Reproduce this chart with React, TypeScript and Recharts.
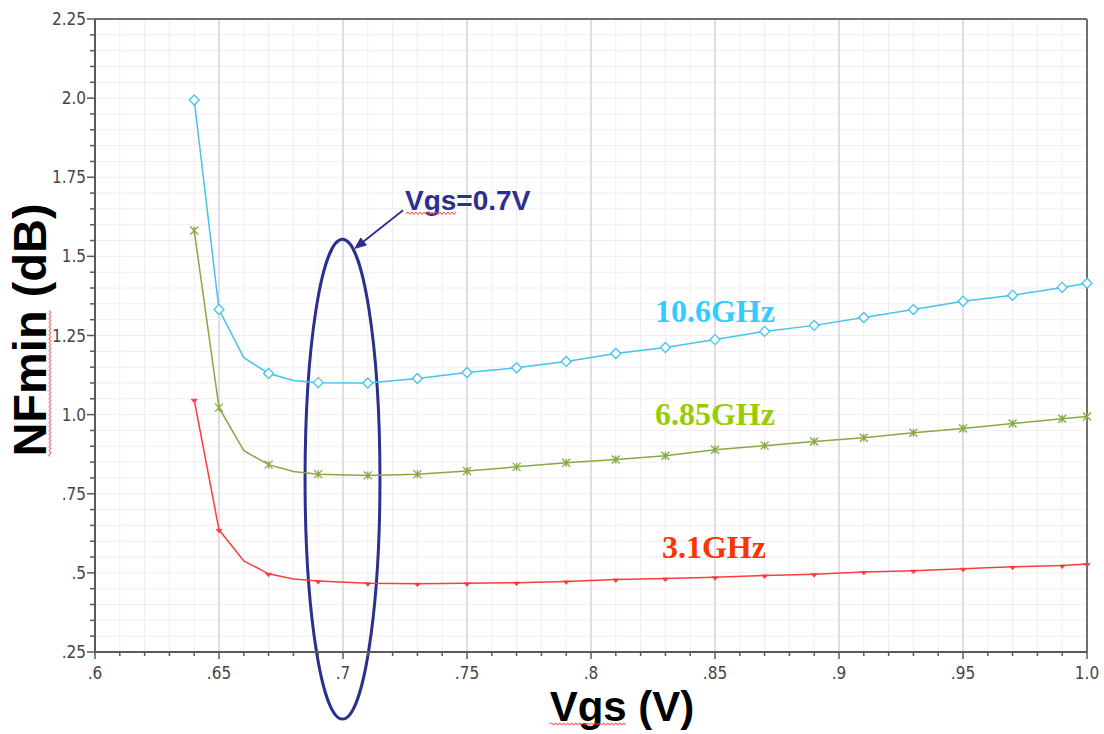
import React from 'react';
import {
  LineChart,
  Line,
  XAxis,
  YAxis,
  CartesianGrid,
  ReferenceLine,
  ReferenceArea,
  ReferenceDot,
} from 'recharts';

// ---- data ----
const vgs = [0.64, 0.65, 0.66, 0.67, 0.68, 0.69, 0.71, 0.73, 0.75, 0.77, 0.79, 0.81, 0.83, 0.85, 0.87, 0.89, 0.91, 0.93, 0.95, 0.97, 0.99, 1.0];
const nf106 = [1.994, 1.332, 1.18, 1.13, 1.108, 1.101, 1.1, 1.114, 1.133, 1.148, 1.168, 1.193, 1.212, 1.237, 1.263, 1.282, 1.307, 1.332, 1.358, 1.377, 1.402, 1.415];
const nf685 = [1.582, 1.022, 0.886, 0.842, 0.82, 0.812, 0.808, 0.812, 0.822, 0.835, 0.848, 0.858, 0.87, 0.889, 0.902, 0.915, 0.927, 0.943, 0.956, 0.972, 0.987, 0.994];
const nf31 = [1.047, 0.636, 0.538, 0.497, 0.481, 0.474, 0.467, 0.466, 0.467, 0.469, 0.473, 0.479, 0.482, 0.486, 0.492, 0.496, 0.503, 0.507, 0.513, 0.519, 0.523, 0.528];
const unmarkedVgs = [0.66, 0.68];

const seriesNames = ['10.6GHz', '6.85GHz', '3.1GHz'];

const xMajorTicks = [0.6, 0.65, 0.7, 0.75, 0.8, 0.85, 0.9, 0.95, 1.0];
const xTickLabels = ['.6', '.65', '.7', '.75', '.8', '.85', '.9', '.95', '1.0'];
const yMajorTicks = [0.25, 0.5, 0.75, 1.0, 1.25, 1.5, 1.75, 2.0, 2.25];
const yTickLabels = ['.25', '.5', '.75', '1.0', '1.25', '1.5', '1.75', '2.0', '2.25'];
const xMinorTicks = Array.from({ length: 41 }, (_, i) => Math.round((0.6 + i * 0.01) * 1000) / 1000);
const yMinorTicks = Array.from({ length: 41 }, (_, i) => Math.round((0.25 + i * 0.05) * 1000) / 1000);

const annotationWord = 'Vgs';
const annotationRest = '=0.7V';
const yTitleWord = 'NFmin';
const yTitleRest = ' (dB)';
const xTitleWord = 'Vgs';
const xTitleRest = ' (V)';

const data = vgs.map((v, i) => ({ vgs: v, f106: nf106[i], f685: nf685[i], f31: nf31[i] }));

// ---- styles ----
const TICK_FONT = "'Liberation Sans Narrow', 'Arial Narrow', 'DejaVu Sans Condensed', sans-serif";
const SANS = "'Liberation Sans', Arial, sans-serif";
const AXIS_COLOR = '#5a5a5a';
const C106 = '#43C3EE';
const C685 = '#88A845';
const C31 = '#FF3B3B';
const NAVY = '#2C2F8E';
const SPELL_RED = '#ff3b3b';

const isMajor = (list: number[], v: number) => list.findIndex((t) => Math.abs(t - v) < 1e-6);
const hasMarker = (v: number) => isMajor(unmarkedVgs, v) < 0;

// red "spell-check" squiggle under a word, in the local text frame
const wavyPath = (x1: number, y: number, x2: number) => {
  let d = `M${x1},${y}`;
  let up = true;
  for (let x = x1 + 2; x <= x2 + 0.01; x += 2) {
    d += ` L${x},${y + (up ? -1.2 : 1.2)}`;
    up = !up;
  }
  return d;
};

const XTick = (props: any) => {
  const { x, y, payload } = props;
  const idx = isMajor(xMajorTicks, payload.value);
  const major = idx >= 0;
  return (
    <g>
      <line x1={x} y1={y} x2={x} y2={y + (major ? 7 : 4)} stroke={AXIS_COLOR} strokeWidth={1.5} />
      {major && (
        <text x={x} y={y + 27} textAnchor="middle" fontFamily={TICK_FONT} fontSize={17} fill="#454545">
          {xTickLabels[idx]}
        </text>
      )}
    </g>
  );
};

const YTick = (props: any) => {
  const { x, y, payload } = props;
  const idx = isMajor(yMajorTicks, payload.value);
  const major = idx >= 0;
  return (
    <g>
      <line x1={x} y1={y} x2={x - (major ? 8 : 5)} y2={y} stroke={AXIS_COLOR} strokeWidth={1.5} />
      {major && (
        <text x={x - 9} y={y} dy="0.36em" textAnchor="end" fontFamily={TICK_FONT} fontSize={17} fill="#454545">
          {yTickLabels[idx]}
        </text>
      )}
    </g>
  );
};

const diamondDot = (p: any) => {
  const { cx, cy, index, payload } = p;
  if (!hasMarker(payload.vgs)) return <g key={`b${index}`} />;
  const s = 5;
  return (
    <path
      key={`b${index}`}
      d={`M${cx},${cy - s} L${cx + s},${cy} L${cx},${cy + s} L${cx - s},${cy} Z`}
      fill="#ffffff"
      stroke={C106}
      strokeWidth={1.3}
    />
  );
};

const crossDot = (p: any) => {
  const { cx, cy, index, payload } = p;
  if (!hasMarker(payload.vgs)) return <g key={`g${index}`} />;
  const s = 4;
  return (
    <path
      key={`g${index}`}
      d={`M${cx - s},${cy - s} L${cx + s},${cy + s} M${cx + s},${cy - s} L${cx - s},${cy + s} M${cx},${cy - s} L${cx},${cy + s}`}
      stroke={C685}
      strokeWidth={1.3}
      fill="none"
    />
  );
};

const smallDot = (p: any) => {
  const { cx, cy, index, payload } = p;
  if (!hasMarker(payload.vgs)) return <g key={`r${index}`} />;
  return (
    <path
      key={`r${index}`}
      d={`M${cx - 3},${cy - 0.5} L${cx + 3},${cy - 0.5} L${cx},${cy + 3} Z`}
      fill={C31}
      stroke={C31}
      strokeWidth={0.8}
    />
  );
};

const yLabel = (p: any) => {
  const vb = p.viewBox || { x: 0, y: 19, width: 95, height: 633 };
  const fs = 47;
  const cx = vb.x + 46;
  const cy = vb.y + vb.height / 2 - 5.5;
  const total = 5.388 * fs; // Arial-bold advance of "NFmin (dB)"
  const wordW = 3.111 * fs; // advance of "NFmin"
  const start = cx - total / 2;
  return (
    <g transform={`rotate(-90, ${cx}, ${cy})`}>
      <text x={start} y={cy} textAnchor="start" fontFamily={SANS} fontWeight="bold" fontSize={fs} fill="#000">
        {yTitleWord + yTitleRest}
      </text>
      <path d={wavyPath(start, cy + 4, start + wordW)} stroke={SPELL_RED} strokeWidth={1} fill="none" />
    </g>
  );
};

const xLabel = (p: any) => {
  const vb = p.viewBox || { x: 95, y: 652, width: 992, height: 82 };
  const fs = 42;
  const total = 3.445 * fs;
  const wordW = 1.834 * fs;
  const start = vb.x + 527 - total / 2;
  const base = vb.y + 69;
  return (
    <g>
      <text x={start} y={base} textAnchor="start" fontFamily={SANS} fontWeight="bold" fontSize={fs} fill="#000">
        {xTitleWord + xTitleRest}
      </text>
      <path d={wavyPath(start, base + 3, start + wordW)} stroke={SPELL_RED} strokeWidth={1} fill="none" />
    </g>
  );
};

const seriesText = (label: string, color: string) => (p: any) => (
  <text
    x={p.cx}
    y={p.cy}
    fill={color}
    fontFamily="'Liberation Serif', 'Times New Roman', serif"
    fontWeight="bold"
    fontSize={32}
  >
    {label}
  </text>
);

const annotationLabel = (p: any) => {
  const fs = 28;
  const wordW = 1.834 * fs;
  return (
    <g>
      <text x={p.cx} y={p.cy} fill={NAVY} fontFamily={SANS} fontWeight="bold" fontSize={fs}>
        {annotationWord + annotationRest}
      </text>
      <path d={wavyPath(p.cx + 1, p.cy + 3, p.cx + wordW)} stroke={SPELL_RED} strokeWidth={1} fill="none" />
    </g>
  );
};

const ellipseShape = (p: any) => {
  const w = Math.abs(p.width);
  const h = Math.abs(p.height);
  const x = Math.min(p.x, p.x + p.width);
  const y = Math.min(p.y, p.y + p.height);
  return <ellipse cx={x + w / 2} cy={y + h / 2} rx={w / 2} ry={h / 2} fill="none" stroke={NAVY} strokeWidth={3} />;
};

const arrowShape = (p: any) => {
  const { x1, y1, x2, y2 } = p;
  const ang = Math.atan2(y2 - y1, x2 - x1);
  const L = 11;
  const W = 4.5;
  const bx = x2 - L * Math.cos(ang);
  const by = y2 - L * Math.sin(ang);
  const nx = -Math.sin(ang);
  const ny = Math.cos(ang);
  return (
    <g>
      <line x1={x1} y1={y1} x2={bx} y2={by} stroke={NAVY} strokeWidth={1.8} />
      <polygon
        points={`${x2},${y2} ${bx + nx * W},${by + ny * W} ${bx - nx * W},${by - ny * W}`}
        fill={NAVY}
        stroke={NAVY}
        strokeWidth={1}
      />
    </g>
  );
};

export default function App() {
  return (
    <div style={{ position: 'absolute', left: 0, top: 0, width: 1104, height: 734, background: '#ffffff' }}>
      <LineChart width={1104} height={734} data={data} margin={{ top: 19, right: 17, bottom: 0, left: 0 }}>
        <XAxis
          xAxisId="main"
          dataKey="vgs"
          type="number"
          domain={[0.6, 1.0]}
          ticks={xMinorTicks}
          interval={0}
          height={82}
          tickLine={false}
          tickSize={0}
          tickMargin={0}
          tick={XTick}
          axisLine={{ stroke: AXIS_COLOR, strokeWidth: 2 }}
          label={xLabel}
        />
        <XAxis xAxisId="major" dataKey="vgs" type="number" domain={[0.6, 1.0]} ticks={xMajorTicks} interval={0} hide />
        <YAxis
          yAxisId="main"
          type="number"
          domain={[0.25, 2.25]}
          ticks={yMinorTicks}
          interval={0}
          width={95}
          tickLine={false}
          tickSize={0}
          tickMargin={0}
          tick={YTick}
          axisLine={{ stroke: AXIS_COLOR, strokeWidth: 2 }}
          label={yLabel}
        />
        <YAxis yAxisId="major" type="number" domain={[0.25, 2.25]} ticks={yMajorTicks} interval={0} hide />
        <CartesianGrid xAxisId="main" yAxisId="main" stroke="#F1ECF2" strokeWidth={1} />
        <CartesianGrid xAxisId="major" yAxisId="major" stroke="#D8D6DC" strokeWidth={1.5} />
        <ReferenceLine xAxisId="main" yAxisId="main" y={2.25} stroke="#707070" strokeWidth={2} />
        <ReferenceLine xAxisId="main" yAxisId="main" x={1.0} stroke="#707070" strokeWidth={2} />

        <Line
          xAxisId="main"
          yAxisId="main"
          dataKey="f106"
          name={seriesNames[0]}
          stroke={C106}
          strokeWidth={1.5}
          dot={diamondDot}
          activeDot={false}
          isAnimationActive={false}
        />
        <Line
          xAxisId="main"
          yAxisId="main"
          dataKey="f685"
          name={seriesNames[1]}
          stroke={C685}
          strokeWidth={1.5}
          dot={crossDot}
          activeDot={false}
          isAnimationActive={false}
        />
        <Line
          xAxisId="main"
          yAxisId="main"
          dataKey="f31"
          name={seriesNames[2]}
          stroke={C31}
          strokeWidth={1.5}
          dot={smallDot}
          activeDot={false}
          isAnimationActive={false}
        />

        <ReferenceDot xAxisId="main" yAxisId="main" x={0.8258} y={1.294} ifOverflow="visible" shape={seriesText(seriesNames[0], '#33CCFF')} />
        <ReferenceDot xAxisId="main" yAxisId="main" x={0.8258} y={0.968} ifOverflow="visible" shape={seriesText(seriesNames[1], '#99CC00')} />
        <ReferenceDot xAxisId="main" yAxisId="main" x={0.8286} y={0.547} ifOverflow="visible" shape={seriesText(seriesNames[2], '#FF3300')} />

        <ReferenceArea
          xAxisId="main"
          yAxisId="main"
          x1={0.6847}
          x2={0.7149}
          y1={0.038}
          y2={1.554}
          ifOverflow="visible"
          shape={ellipseShape}
        />
        <ReferenceLine
          xAxisId="main"
          yAxisId="main"
          segment={[
            { x: 0.7242, y: 1.6456 },
            { x: 0.7048, y: 1.5253 },
          ]}
          ifOverflow="visible"
          shape={arrowShape}
        />
        <ReferenceDot xAxisId="main" yAxisId="main" x={0.725} y={1.6456} ifOverflow="visible" shape={annotationLabel} />
      </LineChart>
    </div>
  );
}
